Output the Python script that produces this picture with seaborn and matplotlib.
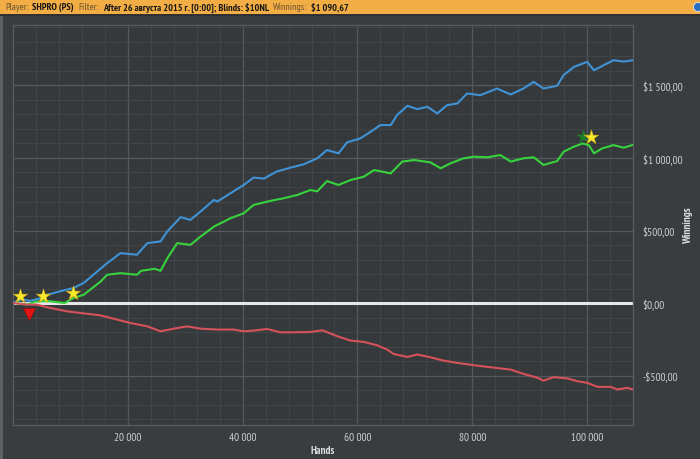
import matplotlib
matplotlib.use("Agg")
import matplotlib.pyplot as plt
from matplotlib.patches import Rectangle, Ellipse
from matplotlib.ticker import MultipleLocator, FixedLocator
from matplotlib import font_manager as fm
import seaborn as sns
import pandas as pd

# ---------------- data ----------------
blue_hands = [0, 1500, 3000, 4500, 6000, 8300, 10500, 12300, 14000, 16400, 18700, 21600,
              23400, 25700, 26900, 29200, 30900, 32700, 35000, 35600, 37900, 40200, 41900,
              43700, 45900, 48300, 50600, 53000, 54700, 56700, 58200, 60500, 62300, 64000,
              65800, 66900, 68700, 70400, 72200, 73900, 75600, 77400, 79100, 81400, 84300,
              86700, 88900, 90700, 92400, 94800, 95900, 97700, 100000, 101200, 102900,
              104600, 106400, 108000]
blue_won = [0, 25, 15, 30, 57, 82, 103, 138, 195, 275, 344, 333,
            413, 425, 495, 592, 573, 632, 711, 700, 757, 814, 865,
            858, 906, 933, 956, 998, 1055, 1032, 1108, 1135, 1181, 1227,
            1227, 1296, 1360, 1337, 1353, 1307, 1364, 1376, 1445, 1433, 1479,
            1438, 1479, 1525, 1479, 1498, 1571, 1628, 1663, 1605, 1640,
            1674, 1665, 1674]

green_hands = [0, 2500, 4000, 6000, 9000, 10500, 12300, 13800, 15300, 16400, 18700, 21600,
               22300, 24700, 25700, 26900, 28600, 30900, 32700, 35000, 37900, 40200, 41900,
               44800, 47100, 49500, 51800, 53000, 54700, 56700, 58800, 61100, 62900, 65800,
               67800, 69900, 72700, 74500, 76200, 78500, 80300, 82600, 84900, 86700, 88900,
               90700, 92400, 94800, 95900, 97700, 99200, 100300, 101200, 102600, 104600,
               106400, 108000]
green_won = [0, -10, 10, 14, 0, 34, 57, 103, 149, 195, 206, 195,
             222, 236, 222, 310, 413, 401, 459, 527, 585, 619, 676,
             704, 722, 745, 779, 770, 841, 814, 848, 871, 917, 894,
             975, 986, 970, 929, 963, 998, 1009, 1005, 1020, 975, 998,
             1005, 952, 979, 1043, 1078, 1100, 1089, 1032, 1066, 1089,
             1071, 1091]

red_hands = [0, 2500, 4200, 6000, 9400, 11800, 15200, 17500, 20500, 23400, 25700, 28000,
             30300, 32700, 35600, 38400, 40200, 41900, 44300, 46600, 48900, 51800, 53900,
             56500, 58800, 61100, 63400, 65200, 66300, 68700, 70400, 72700, 75000, 77400,
             80300, 83200, 86700, 88900, 91400, 92400, 94200, 96600, 98300, 100000, 101800,
             104100, 105300, 107000, 108000]
red_won = [0, -11, -11, -30, -57, -69, -85, -108, -138, -161, -195, -177,
           -161, -177, -183, -183, -195, -190, -179, -202, -202, -200, -188,
           -229, -259, -268, -291, -321, -351, -372, -355, -374, -397, -413,
           -429, -443, -459, -488, -516, -535, -511, -520, -539, -550, -578,
           -578, -596, -585, -596]

star_hands = [1300, 5300, 10400, 100600]
star_won = [48, 48, 69, 1145]
dkstar_hands = [99400]
dkstar_won = [1145]
tri_hands = [2700]
tri_won = [-76]

x_ticks = [20000, 40000, 60000, 80000, 100000]
x_tick_labels = ["20 000", "40 000", "60 000", "80 000", "100 000"]
y_ticks = [-500, 0, 500, 1000, 1500]
y_tick_labels = ["-$500,00", "$0,00", "$500,00", "$1 000,00", "$1 500,00"]

title_parts = ["Player:", "SHPRO (PS)", "Filter:",
               "After 26 августа 2015 г. [0:00]; Blinds: $10NL", "Winnings:", "$1 090,67"]
x_label = "Hands"
y_label = "Winnings"

# ---------------- styling ----------------
FIG_BG = "#3a3d40"
AX_BG = "#36393c"

installed = {f.name for f in fm.fontManager.ttflist}
candidates = ["PT Sans Narrow", "Roboto Condensed", "Archivo Narrow", "Fira Sans Condensed",
              "Open Sans Condensed", "Liberation Sans Narrow", "Encode Sans Condensed",
              "Liberation Sans"]
FONT = [f for f in candidates if f in installed][:1] + ["DejaVu Sans"]

sns.set_style("dark")
plt.rcParams["font.family"] = FONT

fig = plt.figure(figsize=(7, 4.6), dpi=100, facecolor=FIG_BG)
W, H = 700, 460
ax = fig.add_axes([13 / W, 1 - 426 / H, (633 - 13) / W, 400 / H])
ax.set_facecolor(AX_BG)

df = pd.concat([
    pd.DataFrame({"hands": blue_hands, "won": blue_won, "series": "showdown"}),
    pd.DataFrame({"hands": green_hands, "won": green_won, "series": "total"}),
    pd.DataFrame({"hands": red_hands, "won": red_won, "series": "nonsd"}),
])
palette = {"showdown": "#3f93d6", "total": "#36d33d", "nonsd": "#d6525a"}

ax.axhline(0, color="#e6e6e6", lw=2.2, zorder=2)
sns.lineplot(data=df, x="hands", y="won", hue="series", palette=palette,
             estimator=None, linewidth=1.5, legend=False, ax=ax, zorder=3)

sns.scatterplot(x=dkstar_hands, y=dkstar_won, marker="*", s=120, color="#1e7d27",
                edgecolor="none", ax=ax, zorder=4)
sns.scatterplot(x=star_hands, y=star_won, marker="*", s=120, color="#f7ea2a",
                edgecolor="#c9a21a", linewidth=0.4, ax=ax, zorder=5)
sns.scatterplot(x=tri_hands, y=tri_won, marker="v", s=80, color="#e21414",
                edgecolor="#8a0a0a", linewidth=0.4, ax=ax, zorder=5)

ax.set_xlim(0, 108000)
ax.set_ylim(-841, 1917)

ax.xaxis.set_major_locator(FixedLocator(x_ticks))
ax.set_xticklabels(x_tick_labels)
ax.xaxis.set_minor_locator(MultipleLocator(4000))
ax.yaxis.set_major_locator(FixedLocator(y_ticks))
ax.set_yticklabels(y_tick_labels)
ax.yaxis.set_minor_locator(MultipleLocator(100))
ax.yaxis.tick_right()

ax.grid(which="major", color="#56595c", lw=0.9)
ax.grid(which="minor", color="#45484b", lw=0.6)
ax.set_axisbelow(True)
ax.tick_params(which="both", length=0, colors="#cfcfcf", labelsize=8)
ax.tick_params(axis="y", pad=7)
ax.tick_params(axis="x", pad=5)
for s in ax.spines.values():
    s.set_color("#5a5d60")
    s.set_linewidth(0.9)

ax.set_xlabel(x_label, color="#dcdcdc", fontsize=8, fontweight="bold")
ax.set_ylabel(y_label, color="#dcdcdc", fontsize=8, fontweight="bold")
ax.yaxis.set_label_position("right")
ax.xaxis.set_label_coords(0.5, -(446 - 426) / 400)
ax.yaxis.set_label_coords((683 - 13) / 620, 0.5)

# title bar
fig.patches.append(Rectangle((0, 1 - 15 / H), 1, 15 / H, transform=fig.transFigure,
                             facecolor="#f2ad45", edgecolor="none", zorder=0))
fig.patches.append(Rectangle((0, 1 - 17 / H), 1, 2 / H, transform=fig.transFigure,
                             facecolor="#2e3033", edgecolor="none", zorder=0))
fig.patches.append(Rectangle((0, 0), 3 / W, 1 - 17 / H, transform=fig.transFigure,
                             facecolor="#5e6164", edgecolor="none", zorder=0))
fig.patches.append(Ellipse((698 / W, 1 - 8 / H), 9 / W, 9 / H, transform=fig.transFigure,
                           facecolor="#2a6fc0", edgecolor="#dfe8f0", lw=0.6, zorder=1))

fig.canvas.draw()
r = fig.canvas.get_renderer()
x = 5 / W
ty = 1 - 7.5 / H
for txt in title_parts:
    is_label = txt.endswith(":")
    t = fig.text(x, ty, txt, fontsize=7.2, va="center", ha="left",
                 color="#6a5430" if is_label else "#161616",
                 fontweight="normal" if is_label else "bold")
    bb = t.get_window_extent(r)
    x = (bb.x1 + 4) / W

fig.savefig("out.png", dpi=100, facecolor=FIG_BG)
